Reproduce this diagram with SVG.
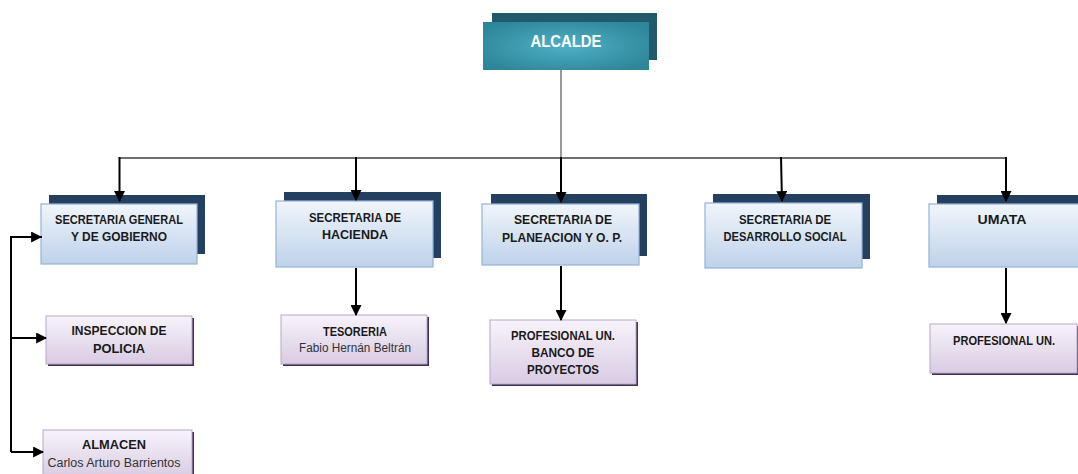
<svg xmlns="http://www.w3.org/2000/svg" width="1078" height="474" viewBox="0 0 1078 474">
<defs>
<radialGradient id="gAl" cx="0.5" cy="0.5" r="0.6">
<stop offset="0" stop-color="#4fb0c6"/>
<stop offset="1" stop-color="#2e8699"/>
</radialGradient>
<linearGradient id="gSec" x1="0" y1="0" x2="0" y2="1">
<stop offset="0" stop-color="#f0f5fb"/>
<stop offset="1" stop-color="#bed2ea"/>
</linearGradient>
<linearGradient id="gSub" x1="0" y1="0" x2="0" y2="1">
<stop offset="0" stop-color="#f7f3fa"/>
<stop offset="1" stop-color="#d8cbe3"/>
</linearGradient>
<marker id="arr" viewBox="0 0 10 10" refX="9" refY="5" markerWidth="5.5" markerHeight="5.5" markerUnits="strokeWidth" orient="auto">
<path d="M0,0 L10,5 L0,10 Z" fill="#000"/>
</marker>
</defs>
<style>
.back{fill:#243f60}
.sec{fill:url(#gSec);stroke:#95b3d7;stroke-width:1.2}
.sub{fill:url(#gSub);stroke:#b8a7cb;stroke-width:1}
.shd{fill:#3f3151}
.t{font-family:"Liberation Sans",Arial,sans-serif;font-weight:bold;font-size:12.5px;fill:#1a1a1a;text-anchor:middle}
.n{font-family:"Liberation Sans",Arial,sans-serif;font-size:12px;fill:#333;text-anchor:middle}
.c{stroke:#000;stroke-width:2;fill:none}
</style>
<rect width="1078" height="474" fill="#fff"/>
<g id="alcalde">
<rect x="492" y="13" width="165" height="47" fill="#215a6a"/>
<rect x="483" y="22" width="166" height="48" fill="url(#gAl)"/>
<text x="566" y="47" font-family="Liberation Sans,Arial,sans-serif" font-weight="bold" font-size="17" fill="#fff" text-anchor="middle" textLength="71" lengthAdjust="spacingAndGlyphs">ALCALDE</text>
</g>
<g id="sec-general">
<rect class="back" x="49" y="195" width="156" height="59"/>
<rect class="sec" x="41" y="204" width="156" height="60"/>
<text class="t" x="119" y="224" textLength="128" lengthAdjust="spacingAndGlyphs">SECRETARIA GENERAL</text>
<text class="t" x="119" y="241" textLength="96" lengthAdjust="spacingAndGlyphs">Y DE GOBIERNO</text>
</g>
<g id="inspeccion">
<rect class="shd" x="48" y="318" width="146" height="48"/>
<rect class="sub" x="46" y="316" width="146" height="48"/>
<text class="t" x="119" y="335" textLength="95" lengthAdjust="spacingAndGlyphs">INSPECCION DE</text>
<text class="t" x="119" y="353" textLength="52" lengthAdjust="spacingAndGlyphs">POLICIA</text>
</g>
<g id="almacen">
<rect class="shd" x="45" y="432" width="149" height="48"/>
<rect class="sub" x="43" y="430" width="149" height="48"/>
<text class="t" x="114" y="449" textLength="64" lengthAdjust="spacingAndGlyphs">ALMACEN</text>
<text class="n" x="114" y="467" textLength="133" lengthAdjust="spacingAndGlyphs">Carlos Arturo Barrientos</text>
</g>
<g id="sec-hacienda">
<rect class="back" x="284" y="192" width="157" height="66"/>
<rect class="sec" x="276" y="201" width="157" height="66"/>
<text class="t" x="355" y="222" textLength="92" lengthAdjust="spacingAndGlyphs">SECRETARIA  DE</text>
<text class="t" x="355" y="239" textLength="66" lengthAdjust="spacingAndGlyphs">HACIENDA</text>
</g>
<g id="tesoreria">
<rect class="shd" x="283" y="317" width="146" height="49"/>
<rect class="sub" x="281" y="315" width="146" height="49"/>
<text class="t" x="355" y="336" textLength="64" lengthAdjust="spacingAndGlyphs">TESORERIA</text>
<text class="n" x="355" y="352" textLength="112" lengthAdjust="spacingAndGlyphs">Fabio Hernán Beltrán</text>
</g>
<g id="sec-planeacion">
<rect class="back" x="491" y="194" width="156" height="62"/>
<rect class="sec" x="482" y="204" width="157" height="61"/>
<text class="t" x="563" y="224" textLength="98" lengthAdjust="spacingAndGlyphs">SECRETARIA  DE</text>
<text class="t" x="562" y="242" textLength="120" lengthAdjust="spacingAndGlyphs">PLANEACION Y O. P.</text>
</g>
<g id="profesional-banco">
<rect class="shd" x="492" y="322" width="146" height="64"/>
<rect class="sub" x="490" y="320" width="146" height="64"/>
<text class="t" x="563" y="340" textLength="104" lengthAdjust="spacingAndGlyphs">PROFESIONAL UN.</text>
<text class="t" x="563" y="357" textLength="63" lengthAdjust="spacingAndGlyphs">BANCO DE</text>
<text class="t" x="563" y="374" textLength="72" lengthAdjust="spacingAndGlyphs">PROYECTOS</text>
</g>
<g id="sec-desarrollo">
<rect class="back" x="713" y="194" width="157" height="65"/>
<rect class="sec" x="705" y="203" width="157" height="65"/>
<text class="t" x="785" y="224" textLength="92" lengthAdjust="spacingAndGlyphs">SECRETARIA  DE</text>
<text class="t" x="785" y="241" textLength="123" lengthAdjust="spacingAndGlyphs">DESARROLLO SOCIAL</text>
</g>
<g id="umata">
<rect class="back" x="937" y="195" width="145" height="62"/>
<rect class="sec" x="929" y="204" width="153" height="63"/>
<text class="t" x="1002" y="224" textLength="49" lengthAdjust="spacingAndGlyphs">UMATA</text>
</g>
<g id="profesional-un">
<rect class="shd" x="932" y="326" width="147" height="49"/>
<rect class="sub" x="930" y="324" width="147" height="49"/>
<text class="t" x="1004" y="345" textLength="102" lengthAdjust="spacingAndGlyphs">PROFESIONAL UN.</text>
</g>
<g id="connectors">
<line x1="561" y1="70" x2="561" y2="158" stroke="#777" stroke-width="1.5"/>
<line x1="119" y1="158" x2="1006" y2="158" stroke="#404040" stroke-width="1.3"/>
<line class="c" x1="119.5" y1="157" x2="119.5" y2="201" marker-end="url(#arr)"/>
<line class="c" x1="356" y1="157" x2="356" y2="200" marker-end="url(#arr)"/>
<line class="c" x1="561" y1="157" x2="561" y2="202" marker-end="url(#arr)"/>
<line class="c" x1="781" y1="157" x2="782" y2="201" marker-end="url(#arr)"/>
<line class="c" x1="1006" y1="157" x2="1006" y2="201" marker-end="url(#arr)"/>
<path class="c" d="M42,237 H11 V452"/>
<line class="c" x1="11" y1="237" x2="41" y2="237" marker-end="url(#arr)"/>
<line class="c" x1="11" y1="338" x2="46" y2="338" marker-end="url(#arr)"/>
<line class="c" x1="11" y1="452" x2="43" y2="452" marker-end="url(#arr)"/>
<line class="c" x1="356" y1="268" x2="356" y2="315" marker-end="url(#arr)"/>
<line class="c" x1="561" y1="266" x2="561" y2="320" marker-end="url(#arr)"/>
<line class="c" x1="1006" y1="268" x2="1006" y2="323" marker-end="url(#arr)"/>
</g>
</svg>
